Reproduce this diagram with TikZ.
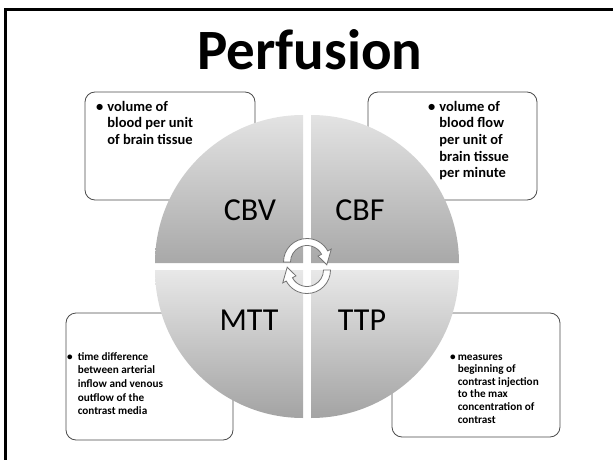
\documentclass[tikz,border=0pt]{standalone}
\usepackage{fontspec}
\setmainfont{Carlito}
\tikzset{
  infobox/.style={draw=black!70, line width=0.8pt, rounded corners=10pt, fill=white, inner sep=0pt},
  quadtop/.style={top color=black!11, bottom color=black!34},
  quadbot/.style={top color=black!9, bottom color=black!36},
  cyc/.style={fill=white, draw=black!55, line width=0.8pt},
  biglabel/.style={font=\fontsize{32}{36}\selectfont, inner sep=0pt},
  bullettext/.style={anchor=base west, inner sep=0pt, align=left}
}
\begin{document}
\begin{tikzpicture}[x=1pt,y=1pt]
\useasboundingbox (0,0) rectangle (613,459);
% frame
\draw[line width=2.5pt] (5.5,-10) -- (5.5,449.5) -- (630,449.5);
% title
\node[anchor=base, inner sep=0pt, font=\bfseries\fontsize{57}{60}\selectfont] (title) at (310,389) {Perfusion};
% info boxes
\node[infobox, minimum width=170pt, minimum height=108pt] (tlbox) at (170,313) {};
\node[infobox, minimum width=169pt, minimum height=108pt] (trbox) at (452.5,313) {};
\node[infobox, minimum width=167pt, minimum height=127pt] (blbox) at (149.5,82.5) {};
\node[infobox, minimum width=168pt, minimum height=124pt] (brbox) at (476,84) {};
% box texts
\node[bullettext, font=\bfseries\fontsize{14.5}{16.5}\selectfont] (tltext) at (96,348)
  {\textbullet\hspace{4pt}\begin{tabular}[t]{@{}l@{}}volume of\\blood per unit\\of brain tissue\end{tabular}};
\node[bullettext, font=\bfseries\fontsize{14.5}{16.7}\selectfont] (trtext) at (428,348)
  {\textbullet\hspace{4pt}\begin{tabular}[t]{@{}l@{}}volume of\\blood flow\\per unit of\\brain tissue\\per minute\end{tabular}};
\node[bullettext, font=\bfseries\fontsize{11.2}{13.7}\selectfont] (bltext) at (67,99)
  {\textbullet\hspace{5pt}\begin{tabular}[t]{@{}l@{}}time difference\\between arterial\\inflow and venous\\outflow of the\\contrast media\end{tabular}};
\node[bullettext, font=\bfseries\fontsize{11.2}{12.6}\selectfont] (brtext) at (450,99)
  {\textbullet\hspace{2pt}\begin{tabular}[t]{@{}l@{}}measures\\beginning of\\contrast injection\\to the max\\concentration of\\contrast\end{tabular}};
% quadrants
\path[quadtop] (303,196) -- (155,196) arc[start angle=180,end angle=90,radius=148] -- cycle;
\path[quadtop] (311,196) -- (311,344) arc[start angle=90,end angle=0,radius=148] -- cycle;
\path[quadbot] (303,189) -- (155,189) arc[start angle=180,end angle=270,radius=148] -- cycle;
\path[quadbot] (311,189) -- (459,189) arc[start angle=0,end angle=-90,radius=148] -- cycle;
% labels
\node[biglabel] (cbv) at (250,249) {CBV};
\node[biglabel] (cbf) at (360,249) {CBF};
\node[biglabel] (mtt) at (249,139) {MTT};
\node[biglabel] (ttp) at (362,139) {TTP};
% cycle arrows
\begin{scope}[shift={(307,197)}]
\path[cyc] (180:23.5) arc[start angle=180,end angle=28,radius=23.5] -- (28:27.5) -- (-8:20) -- (28:12.5) -- (28:16.5) arc[start angle=28,end angle=180,radius=16.5] -- cycle;
\end{scope}
\begin{scope}[shift={(307,189)}, rotate=180]
\path[cyc] (180:23.5) arc[start angle=180,end angle=28,radius=23.5] -- (28:27.5) -- (-8:20) -- (28:12.5) -- (28:16.5) arc[start angle=28,end angle=180,radius=16.5] -- cycle;
\end{scope}
\end{tikzpicture}
\end{document}
